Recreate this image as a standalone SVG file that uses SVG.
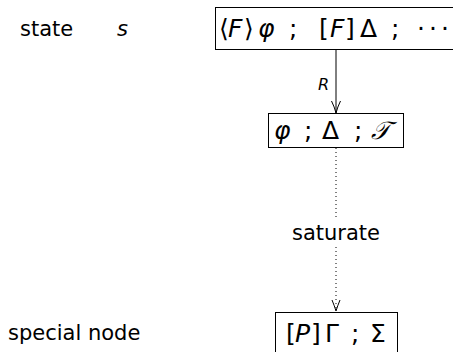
<svg xmlns="http://www.w3.org/2000/svg" width="453" height="352" viewBox="0 0 453 352">
<style>
text{font-family:"DejaVu Sans",sans-serif;font-size:21px;fill:#000}
.i{font-style:italic}
.m{font-size:25px}
.box{fill:#fff;stroke:#000;stroke-width:1}
.ln{fill:none;stroke:#000;stroke-width:1}
.dot{fill:none;stroke:#000;stroke-width:1;stroke-dasharray:1 3}
</style>
<text x="20" y="36">state</text>
<text x="117" y="36" class="i">s</text>
<text x="8" y="340">special node</text>
<g id="connectors">
<line class="ln" x1="336" y1="50" x2="336" y2="113"/>
<path class="ln" d="M331.5,101 Q334.5,107 336,113 Q337.5,107 340.5,101"/>
<text x="318" y="90" class="i" style="font-size:16px">R</text>
<line class="dot" x1="336" y1="148" x2="336" y2="218"/>
<line class="dot" x1="336" y1="247" x2="336" y2="311"/>
<path class="ln" d="M332,300 Q334.5,306 336,311 Q337.5,306 340,300"/>
<text x="336" y="240" text-anchor="middle">saturate</text>
</g>
<g id="n1">
<rect class="box" x="215.5" y="7.5" width="260" height="42"/>
<text class="m" x="219" y="37">⟨</text>
<text class="m i" x="228" y="37">F</text>
<text class="m" x="244" y="37">⟩</text>
<text class="m i" x="258" y="37">φ</text>
<text class="m" x="289" y="37">;</text>
<text class="m" x="319" y="37">[</text>
<text class="m i" x="330" y="37">F</text>
<text class="m" x="345" y="37">]</text>
<text class="m" x="360" y="37">Δ</text>
<text class="m" x="391" y="37">;</text>
<text class="m" x="421" y="37" text-anchor="middle">·</text>
<text class="m" x="433" y="37" text-anchor="middle">·</text>
<text class="m" x="445" y="37" text-anchor="middle">·</text>
</g>
<g id="n2">
<rect class="box" x="268.5" y="113.5" width="135" height="34"/>
<text class="m i" x="274" y="139">φ</text>
<text class="m" x="304" y="139">;</text>
<text class="m" x="322" y="139">Δ</text>
<text class="m" x="354" y="139">;</text>
<text class="m i" x="371" y="139">𝒯</text>
</g>
<g id="n3">
<rect class="box" x="275.5" y="312.5" width="122" height="50"/>
<text class="m" x="286" y="342">[</text>
<text class="m i" x="295" y="342">P</text>
<text class="m" x="311" y="342">]</text>
<text class="m" x="325" y="342">Γ</text>
<text class="m" x="351" y="342">;</text>
<text class="m" x="370" y="342">Σ</text>
</g>
</svg>
